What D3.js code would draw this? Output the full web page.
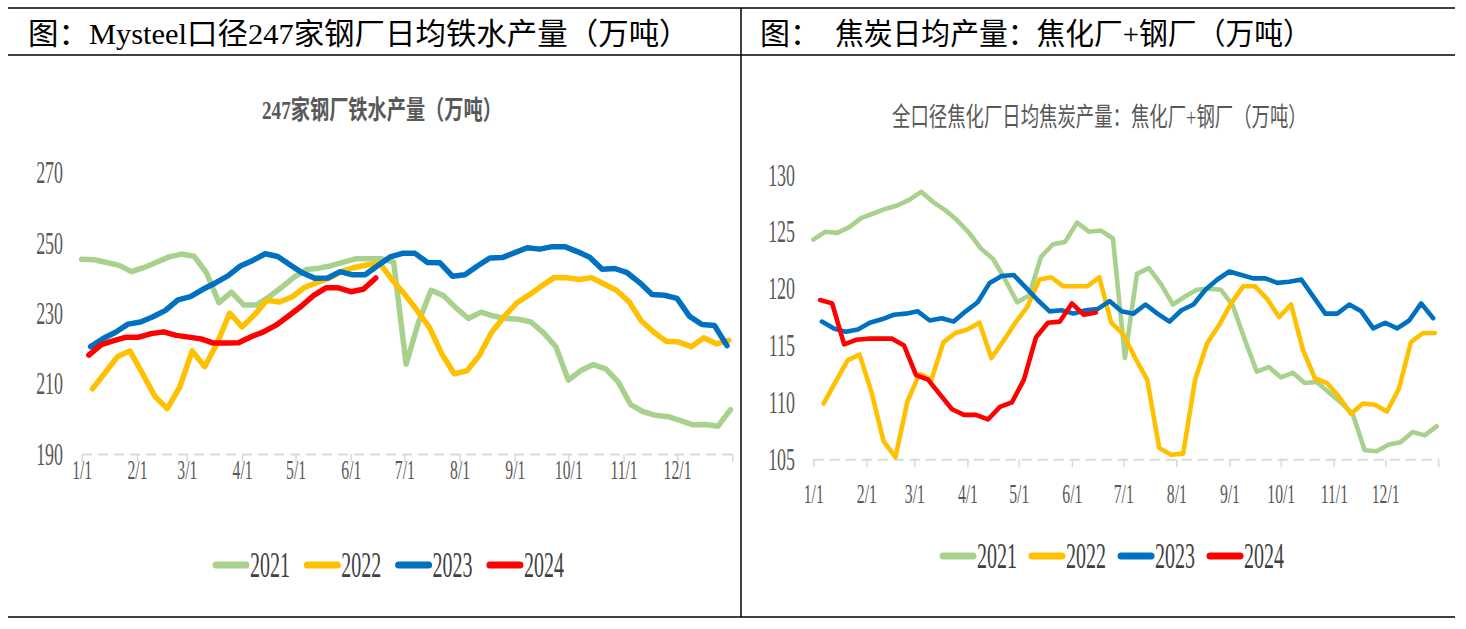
<!DOCTYPE html>
<html><head><meta charset="utf-8">
<script src="https://cdn.jsdelivr.net/npm/d3@7"></script>
<style>body{margin:0;background:#fff;} svg{display:block;}</style>
</head><body>
<svg id="c" width="1466" height="629"></svg>
<script>
// ---------- data ----------
const years = ["2021", "2022", "2023", "2024"];
const seriesStart = ["2021-01-01", "2022-01-07", "2023-01-06", "2024-01-05"]; // weekly (Friday) series
const colors = ["#A9D18E", "#FFC000", "#0070C0", "#FF0000"];
const monthLabels = ["1/1","2/1","3/1","4/1","5/1","6/1","7/1","8/1","9/1","10/1","11/1","12/1"];
const ironTicks = [190, 210, 230, 250, 270];
const cokeTicks = [105, 110, 115, 120, 125, 130];

// 247家钢厂铁水产量（万吨）
const iron2021 = [245.3,245.2,244.4,243.6,241.8,243,244.5,246,246.8,246.2,241.5,233,236,232.3,232.3,234.6,237.3,240.2,242.4,242.8,243.5,244.5,245.5,245.5,245.5,244.5,215.5,227.5,236.5,235,231.5,228.5,230.3,229.2,228.5,228.3,227.5,224.5,220.5,211,213.7,215.4,214.2,210.5,204,202,201,200.6,199.5,198.3,198.4,197.9,202.6];
const iron2022 = [208.5,213,217.6,219.3,213,206.4,202.9,209,219.3,214.8,221.5,230,226.1,229.6,233.7,233.2,234.6,237.3,238.7,240,241.9,243,243.7,244.3,239.6,235.5,230.9,226,218.5,212.8,213.6,217.9,224.6,229,232.9,235.2,237.7,240.1,240.1,239.6,240.1,238.3,236.5,233.3,227.8,224.6,222,221.8,220.5,223,221.3,222.3];
const iron2023 = [220.5,222.8,224.6,226.9,227.5,229,230.8,233.8,234.7,236.8,238.6,240.6,243.4,245,246.9,246.1,243.7,241.4,239.9,240,241.8,240.9,240.9,243.5,246,247,247,244.4,244.3,240.5,240.9,243.4,245.7,245.8,247.2,248.6,248.2,248.9,248.9,247.5,245.9,242.5,242.7,241.5,238.7,235.3,235.1,234.2,229.1,226.8,226.5,220.8];
const iron2024 = [218.1,221.1,222.2,223.2,223.2,224.2,224.7,223.7,223.2,222.7,221.5,221.5,221.6,223.3,224.7,226.6,229.2,231.9,235,237.2,237.2,236.1,236.8,240];

// 全口径焦化厂日均焦炭产量（万吨）
const coke2021 = [124.3,125.0,124.9,125.4,126.2,126.6,127.0,127.3,127.8,128.5,127.6,126.9,126.0,124.9,123.5,122.6,120.8,118.8,119.4,122.8,123.9,124.1,125.8,125,125.1,124.4,113.9,121.3,121.8,120.4,118.6,119.3,119.9,120,119.9,118.5,115.5,112.7,113.1,112.2,112.6,111.7,111.8,110.9,110,109,105.8,105.7,106.3,106.5,107.4,107.1,107.9];
const coke2022 = [109.9,111.8,113.7,114.2,110.9,106.6,105.2,110.1,112.5,112,115.3,116.1,116.4,117,113.9,115.4,117,118.4,120.8,121,120.2,120.2,120.2,121,117,116,113.9,112,106,105.4,105.5,112,115.2,116.8,118.7,120.2,120.2,119.1,117.5,118.6,114.6,112.1,111.7,110.5,109,109.9,109.8,109.2,111.2,115.3,116.1,116.1];
const coke2023 = [117.1,116.5,116.2,116.4,117,117.3,117.7,117.8,118,117.2,117.4,117.1,118,118.8,120.5,121.1,121.2,120.1,119,118,118.1,117.8,118.1,118.2,118.9,118,117.8,118.6,117.8,117.1,118.1,118.6,119.9,120.8,121.5,121.2,120.9,120.9,120.5,120.6,120.8,119.3,117.8,117.8,118.6,118,116.5,117,116.5,117.2,118.7,117.4];
const coke2024 = [119,118.7,115.1,115.5,115.6,115.6,115.6,115,112.4,112,110.7,109.4,108.9,108.9,108.5,109.6,110,112,115.7,117,117.1,118.7,117.7,117.9];

// ---------- helpers ----------
const svg = d3.select("#c");
const parse = d3.timeParse("%Y-%m-%d");
const dayOfYear = d => d3.timeDay.count(d3.timeYear(d), d);
const monthDays = d3.timeMonth.range(new Date(2021,0,1), new Date(2022,0,1)).map(dayOfYear).concat([365]);

const SERIF = "'Liberation Serif','Times New Roman',serif";
const CJK = "'Liberation Serif','Noto Sans CJK SC',sans-serif";

function toPoints(values, startStr) {
  const s = parse(startStr);
  return values.map((v, i) => ({ day: dayOfYear(d3.timeDay.offset(s, 7 * i)), v }));
}

// text squeezed horizontally to a target width (keeps real text)
function fitText(parent, str, x, y, width, size, opts = {}) {
  const t = parent.append("text")
    .attr("dy", "0.35em").attr("font-family", opts.family || CJK).attr("font-size", size)
    .attr("font-weight", opts.bold ? "bold" : "normal").attr("fill", opts.fill || "#000")
    .text(str);
  const natural = t.node().getComputedTextLength();
  const s = width / natural;
  t.attr("transform", `translate(${x},${y}) scale(${s},1)`);
  return t;
}

function panel(cfg) {
  const g = svg.append("g");
  const x = d3.scaleLinear().domain([0, 365]).range(cfg.xRange);
  const y = d3.scaleLinear().domain(cfg.yDomain).range(cfg.yRange);

  // x axis (dashed baseline + month ticks)
  const ax = g.append("g").attr("transform", `translate(0,${cfg.yRange[0]})`)
    .call(d3.axisBottom(x).tickValues(monthDays).tickSize(8).tickSizeOuter(0)
      .tickFormat((d, i) => monthLabels[i] || ""));
  ax.select(".domain").attr("stroke", "#D9D9D9").attr("stroke-width", 2).attr("stroke-dasharray", "10,6");
  ax.selectAll(".tick line").attr("stroke", "#D9D9D9").attr("stroke-width", 1.5);
  ax.selectAll(".tick text")
    .attr("y", cfg.xLabelOffset).attr("dy", "0.35em")
    .attr("font-family", SERIF).attr("font-size", 28).attr("fill", "#595959")
    .attr("transform", "scale(0.56,1)");

  // y axis labels
  const ay = g.append("g").attr("transform", `translate(${cfg.yLabelX},0)`)
    .call(d3.axisLeft(y).tickValues(cfg.yTicks).tickSize(0).tickPadding(0));
  ay.select(".domain").remove();
  ay.selectAll(".tick text")
    .attr("font-family", SERIF).attr("font-size", 32).attr("fill", "#595959")
    .attr("transform", "scale(0.56,1)");

  // lines
  const line = d3.line().x(d => x(d.day)).y(d => y(d.v));
  cfg.series.forEach((vals, k) => {
    g.append("path").datum(toPoints(vals, seriesStart[k]))
      .attr("d", line).attr("fill", "none").attr("stroke", colors[k])
      .attr("stroke-width", cfg.lw).attr("stroke-linejoin", "round").attr("stroke-linecap", "round");
  });

  // chart title
  fitText(g, cfg.title.text, cfg.title.x, cfg.title.y, cfg.title.w, 26,
    { bold: cfg.title.bold, fill: "#595959" });

  // legend
  years.forEach((yr, k) => {
    const lx = cfg.legend.x + k * cfg.legend.step;
    g.append("line").attr("x1", lx + 3).attr("x2", lx + 33).attr("y1", cfg.legend.y).attr("y2", cfg.legend.y)
      .attr("stroke", colors[k]).attr("stroke-width", 7).attr("stroke-linecap", "round");
    fitText(g, yr, lx + 37, cfg.legend.y, 40, 35, { family: SERIF, fill: "#404040" });
  });
}

panel({
  xRange: [81.7, 732.3], yDomain: [190, 270], yRange: [454, 172.4], yTicks: ironTicks,
  yLabelX: 63, xLabelOffset: 15, lw: 5.5,
  series: [iron2021, iron2022, iron2023, iron2024],
  title: { text: "247家钢厂铁水产量（万吨）", x: 262, y: 110, w: 240, bold: true },
  legend: { x: 213, y: 565, step: 91.3 }
});

panel({
  xRange: [813.3, 1438.3], yDomain: [105, 130], yRange: [459.3, 174.8], yTicks: cokeTicks,
  yLabelX: 795, xLabelOffset: 34, lw: 4.6,
  series: [coke2021, coke2022, coke2023, coke2024],
  title: { text: "全口径焦化厂日均焦炭产量：焦化厂+钢厂（万吨）", x: 892, y: 117, w: 415, bold: false },
  legend: { x: 940, y: 556, step: 89 }
});

// ---------- frame & headers ----------
const frame = svg.append("g").attr("stroke", "#000").attr("stroke-width", 1.5);
frame.append("line").attr("x1", 8).attr("x2", 1455).attr("y1", 8).attr("y2", 8);
frame.append("line").attr("x1", 8).attr("x2", 1455).attr("y1", 55).attr("y2", 55);
frame.append("line").attr("x1", 8).attr("x2", 1455).attr("y1", 617).attr("y2", 617);
frame.append("line").attr("x1", 741).attr("x2", 741).attr("y1", 8).attr("y2", 617);

fitText(svg, "图：Mysteel口径247家钢厂日均铁水产量（万吨）", 28, 33, 662, 30);
svg.append("text").attr("x", 760).attr("y", 33).attr("dy", "0.35em")
  .attr("font-family", CJK).attr("font-size", 30).attr("fill", "#000").text("图：");
fitText(svg, "焦炭日均产量：焦化厂+钢厂（万吨）", 835, 33, 477, 30);
</script>
</body></html>
